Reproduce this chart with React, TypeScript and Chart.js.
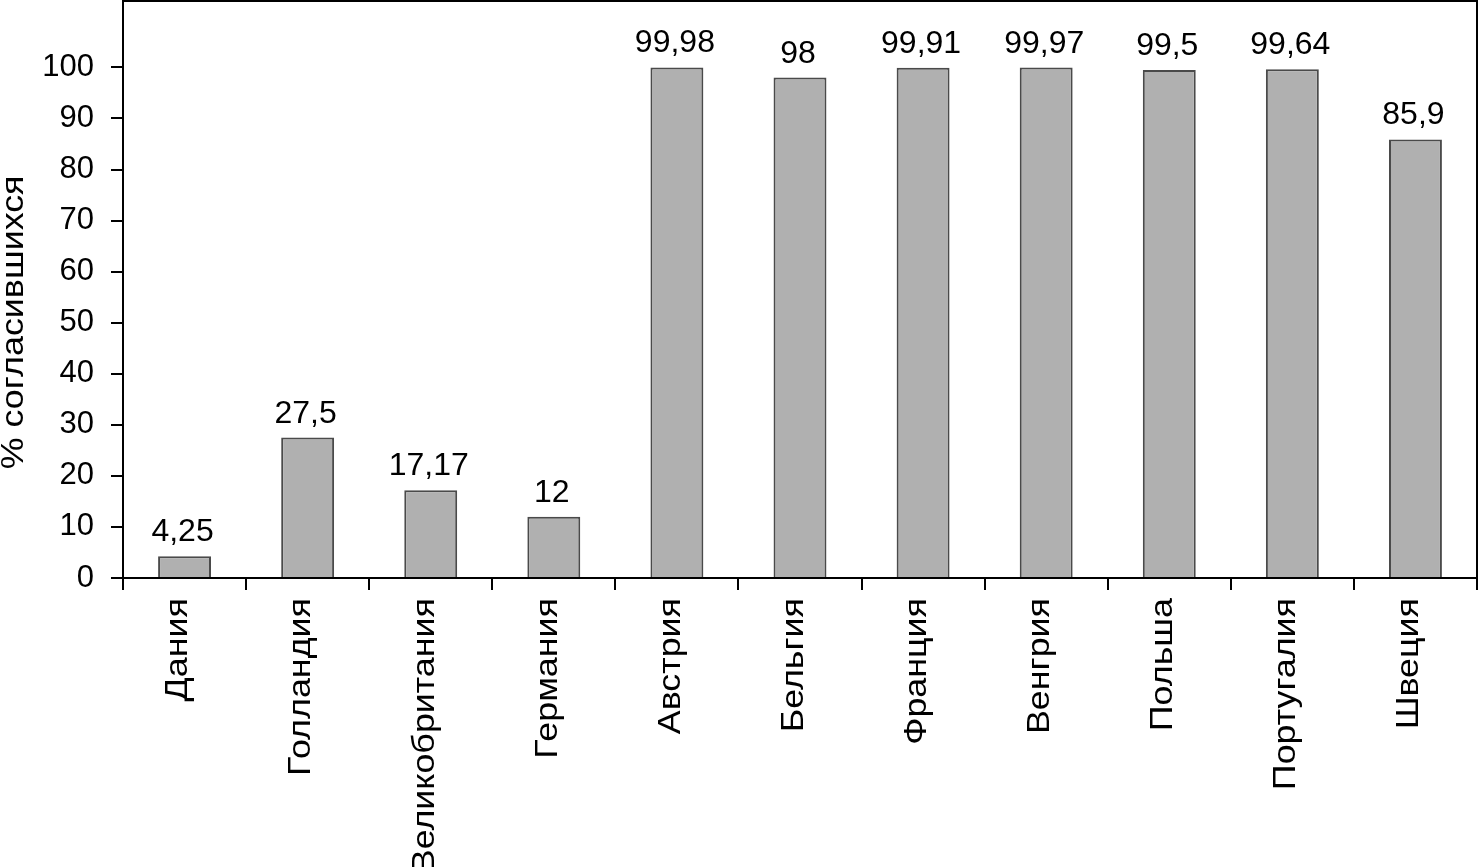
import React, { useEffect, useRef } from "react";
import { Chart, registerables } from "chart.js";

Chart.register(...registerables);

const categories = [
  "Дания",
  "Голландия",
  "Великобритания",
  "Германия",
  "Австрия",
  "Бельгия",
  "Франция",
  "Венгрия",
  "Польша",
  "Португалия",
  "Швеция",
];
const values = [4.25, 27.5, 17.17, 12, 99.98, 98, 99.91, 99.97, 99.5, 99.64, 85.9];
const valueLabels = ["4,25", "27,5", "17,17", "12", "99,98", "98", "99,91", "99,97", "99,5", "99,64", "85,9"];
const yTicks = [0, 10, 20, 30, 40, 50, 60, 70, 80, 90, 100];
const yTitle = "% согласившихся";

const FONT = "'Liberation Sans', Arial, Helvetica, sans-serif";
const STRETCH = 1.12;

const framePlugin = {
  id: "frame",
  afterDraw(chart: any) {
    const { ctx, chartArea } = chart;
    ctx.save();
    ctx.strokeStyle = "#000";
    ctx.lineWidth = 2;
    ctx.strokeRect(chartArea.left, chartArea.top, chartArea.right - chartArea.left, chartArea.bottom - chartArea.top);
    ctx.restore();
  },
};

const textPlugin = {
  id: "texts",
  afterDraw(chart: any) {
    const { ctx, chartArea } = chart;
    const meta = chart.getDatasetMeta(0);
    const xScale = chart.scales.x;
    ctx.save();
    ctx.fillStyle = "#000";
    // value labels above bars
    ctx.font = `32px ${FONT}`;
    ctx.textAlign = "center";
    ctx.textBaseline = "alphabetic";
    meta.data.forEach((bar: any, i: number) => {
      ctx.fillText(valueLabels[i], bar.x - 2, bar.y - 15);
    });
    // rotated category labels
    ctx.font = `32px ${FONT}`;
    categories.forEach((c, i) => {
      const x = xScale.getPixelForTick(i) - 6;
      const y = xScale.top + 20;
      ctx.save();
      ctx.translate(x, y);
      ctx.rotate(-Math.PI / 2);
      ctx.scale(STRETCH, 1);
      ctx.textAlign = "right";
      ctx.textBaseline = "middle";
      ctx.fillText(c, 0, 0);
      ctx.restore();
    });
    // y-axis title
    ctx.save();
    ctx.translate(14, chartArea.top + (chartArea.bottom - chartArea.top) * 0.557);
    ctx.rotate(-Math.PI / 2);
    ctx.scale(STRETCH, 1);
    ctx.textAlign = "center";
    ctx.textBaseline = "middle";
    ctx.fillText(yTitle, 0, 0);
    ctx.restore();
    ctx.restore();
  },
};

export default function App() {
  const ref = useRef<HTMLCanvasElement>(null);
  useEffect(() => {
    document.body.style.margin = "0";
    const chart = new Chart(ref.current!, {
      type: "bar",
      data: {
        labels: categories,
        datasets: [
          {
            data: values,
            backgroundColor: "#b0b0b0",
            borderColor: "#4a4a4a",
            borderWidth: 2,
            barPercentage: 0.43,
            categoryPercentage: 1,
          },
        ],
      },
      options: {
        responsive: false,
        animation: false,
        devicePixelRatio: 1,
        layout: { padding: { top: 1, right: 3, left: 0, bottom: 0 } },
        plugins: { legend: { display: false }, tooltip: { enabled: false } },
        scales: {
          x: {
            grid: {
              offset: true,
              drawOnChartArea: false,
              drawTicks: true,
              tickLength: 12,
              color: "#000",
              lineWidth: 2,
            },
            border: { display: true, color: "#000", width: 2 },
            ticks: { display: false, autoSkip: false },
            afterFit(scale: any) {
              scale.height = 289;
              scale.paddingLeft = 0;
              scale.paddingRight = 0;
            },
          },
          y: {
            min: 0,
            max: 113,
            afterBuildTicks(scale: any) {
              scale.ticks = yTicks.map((v) => ({ value: v }));
            },
            grid: {
              drawOnChartArea: false,
              drawTicks: true,
              tickLength: 12,
              color: "#000",
              lineWidth: 2,
            },
            border: { display: true, color: "#000", width: 2 },
            ticks: {
              color: "#000",
              font: { family: FONT, size: 31 },
              padding: 17,
            },
            title: { display: false },
            afterFit(scale: any) {
              scale.width = 123;
              scale.paddingTop = 0;
              scale.paddingBottom = 0;
            },
          },
        },
      },
      plugins: [framePlugin, textPlugin],
    });
    return () => chart.destroy();
  }, []);
  return <canvas ref={ref} width={1480} height={867} style={{ display: "block" }} />;
}
